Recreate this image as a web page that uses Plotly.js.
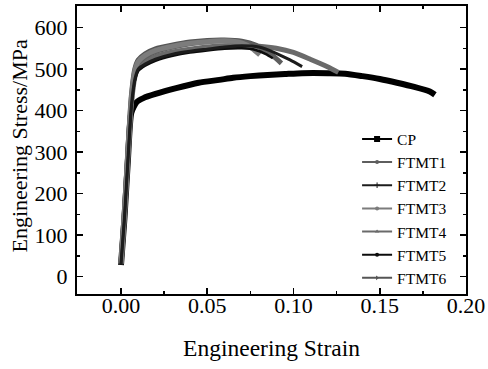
<!DOCTYPE html>
<html>
<head>
<meta charset="utf-8">
<script src="https://cdn.plot.ly/plotly-3.0.1.min.js"></script>
<style>html,body{margin:0;padding:0;background:#fff;}#chart{width:488px;height:369px;}</style>
</head>
<body>
<div id="chart"></div>
<script>
// Engineering strain / stress (MPa)
const seriesNames = ["CP", "FTMT1", "FTMT2", "FTMT3", "FTMT4", "FTMT5", "FTMT6"];

const strainCP = [0, 0.002, 0.004, 0.006, 0.009, 0.013, 0.02, 0.032, 0.045, 0.057, 0.065, 0.075, 0.085, 0.095, 0.105, 0.12, 0.13, 0.14, 0.15, 0.16, 0.17, 0.179, 0.182];
const stressCP = [28, 140, 280, 395, 420, 430, 440, 454, 467, 474, 479, 483, 486, 488, 490, 490, 489, 483, 476, 467, 457, 446, 438];

const strainFTMT1 = [0, 0.002, 0.004, 0.006, 0.008, 0.010, 0.014, 0.02, 0.03, 0.04, 0.05, 0.06, 0.07, 0.08, 0.088, 0.093];
const stressFTMT1 = [30, 150, 290, 420, 490, 515, 530, 542, 553, 561, 566, 568, 565, 553, 532, 514];

const strainFTMT2 = [0, 0.002, 0.004, 0.006, 0.008, 0.010, 0.014, 0.02, 0.03, 0.04, 0.05, 0.06, 0.07, 0.08, 0.09, 0.098, 0.105];
const stressFTMT2 = [30, 140, 280, 410, 475, 500, 512, 524, 536, 543, 548, 553, 556, 553, 538, 522, 506];

const strainFTMT3 = [0, 0.002, 0.004, 0.006, 0.008, 0.010, 0.014, 0.02, 0.03, 0.04, 0.05, 0.06, 0.07, 0.076, 0.0805];
const stressFTMT3 = [32, 155, 300, 430, 495, 518, 533, 545, 555, 562, 566, 568, 563, 550, 534];

const strainFTMT4 = [0, 0.002, 0.004, 0.006, 0.008, 0.010, 0.014, 0.02, 0.03, 0.04, 0.05, 0.06, 0.07, 0.08, 0.09, 0.10, 0.11, 0.12, 0.126];
const stressFTMT4 = [30, 145, 285, 415, 480, 505, 518, 530, 541, 548, 553, 556, 557, 555, 550, 540, 523, 505, 492];

const strainFTMT5 = [0, 0.002, 0.004, 0.006, 0.008, 0.010, 0.014, 0.02, 0.03, 0.04, 0.05, 0.06, 0.07, 0.078, 0.084, 0.088];
const stressFTMT5 = [30, 140, 278, 405, 470, 495, 508, 520, 532, 540, 545, 549, 550, 546, 536, 526];

const strainFTMT6 = [0, 0.002, 0.004, 0.006, 0.008, 0.010, 0.014, 0.02, 0.03, 0.04, 0.05, 0.06, 0.07, 0.078, 0.085];
const stressFTMT6 = [32, 160, 305, 435, 500, 522, 537, 549, 558, 565, 569, 570, 567, 558, 540];

const xTickVals = [0, 0.05, 0.10, 0.15, 0.20];
const xTickText = ["0.00", "0.05", "0.10", "0.15", "0.20"];
const yTickVals = [0, 100, 200, 300, 400, 500, 600];
const xTitle = "Engineering Strain";
const yTitle = "Engineering Stress/MPa";

const strains = [strainCP, strainFTMT1, strainFTMT2, strainFTMT3, strainFTMT4, strainFTMT5, strainFTMT6];
const stresses = [stressCP, stressFTMT1, stressFTMT2, stressFTMT3, stressFTMT4, stressFTMT5, stressFTMT6];
const colors = ["#000000", "#5e5e5e", "#1c1c1c", "#7c7c7c", "#6a6a6a", "#0c0c0c", "#555555"];
const widths = [6, 5, 3, 5, 5, 2.5, 5];
const symbols = ["square", "circle", "cross-thin-open", "circle", "triangle-up", "circle", "triangle-right"];
const drawOrder = [0, 4, 6, 1, 3, 5, 2];

const data = [];
drawOrder.forEach(function (i) {
  data.push({
    x: strains[i], y: stresses[i], type: "scatter", mode: "lines",
    line: {color: colors[i], width: widths[i], shape: "spline", smoothing: 0.6},
    showlegend: false, hoverinfo: "skip"
  });
});
seriesNames.forEach(function (n, i) {
  data.push({
    x: [null], y: [null], type: "scatter", mode: "lines+markers", name: n,
    line: {color: colors[i], width: 2},
    marker: {color: colors[i], symbol: symbols[i], size: i === 0 ? 6 : 4}
  });
});

const font = {family: "Liberation Serif, Times New Roman, serif", color: "#000"};
const layout = {
  width: 488, height: 369,
  margin: {l: 77, r: 22, t: 6, b: 75},
  paper_bgcolor: "#fff", plot_bgcolor: "#fff",
  font: font,
  showlegend: true,
  legend: {
    x: 0.72, y: 0.596, xanchor: "left", yanchor: "top",
    bgcolor: "rgba(0,0,0,0)", borderwidth: 0,
    font: {family: font.family, size: 15.5, color: "#000"},
    tracegroupgap: 0
  },
  xaxis: {
    range: [-0.0255, 0.20],
    tickvals: xTickVals, ticktext: xTickText,
    ticks: "inside", ticklen: 6, tickwidth: 1.5, tickcolor: "#000",
    minor: {dtick: 0.025, tick0: 0, ticks: "inside", ticklen: 3, tickwidth: 1.5, tickcolor: "#000"},
    showline: true, linecolor: "#000", linewidth: 2, mirror: "allticks",
    showgrid: false, zeroline: false,
    tickfont: {family: font.family, size: 22, color: "#000"},
    ticklabelstandoff: -9,
    title: {text: xTitle, font: {family: font.family, size: 23.5, color: "#000"}, standoff: 22}
  },
  yaxis: {
    range: [-42, 652],
    tickvals: yTickVals,
    ticks: "inside", ticklen: 6, tickwidth: 1.5, tickcolor: "#000",
    minor: {dtick: 50, tick0: 0, ticks: "inside", ticklen: 3, tickwidth: 1.5, tickcolor: "#000"},
    showline: true, linecolor: "#000", linewidth: 2, mirror: "allticks",
    showgrid: false, zeroline: false,
    tickfont: {family: font.family, size: 22, color: "#000"},
    ticklabelstandoff: 3
  },
  annotations: [{
    text: yTitle, textangle: -90, showarrow: false,
    xref: "paper", yref: "paper", x: -0.147, y: 0.515,
    xanchor: "center", yanchor: "middle",
    font: {family: font.family, size: 22, color: "#000"}
  }]
};

Plotly.newPlot("chart", data, layout, {displayModeBar: false, staticPlot: true});
</script>
</body>
</html>
